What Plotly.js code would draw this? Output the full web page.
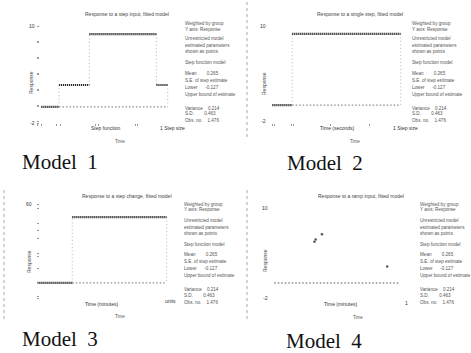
<!DOCTYPE html>
<html><head><meta charset="utf-8">
<script src="https://cdn.plot.ly/plotly-3.0.1.min.js"></script>
<style>html,body{margin:0;padding:0;background:#fff}#chart{width:471px;height:353px}</style>
</head><body><div id="chart"></div>
<script>
// ---- Data ----
// Model 1: breakpoints on the time axis and the level held on each interval
const m1Breaks = [0, 14, 38, 91, 100];
const m1Levels = [0, 2.7, 9, 2.7];
// Model 2
const m2Breaks = [0, 15.5, 100];
const m2Levels = [0, 9];
// Model 3
const m3Breaks = [0, 27, 100];
const m3Levels = [0, 50];
// Model 4: baseline plus a few scattered points
const m4BaseX = [0, 100];
const m4BaseY = [0, 0];
const m4PointX = [32, 33, 38, 90];
const m4PointY = [5.5, 5.8, 6.5, 2.2];

// Tick labels
const yTicks12 = [-2, 10];
const yMinor12 = [0, 2, 4, 6, 8];
const yTicks3 = [60];
const yMinor3 = [-10, 0, 20, 40];

const panelTitles = [
  "Response to a step input, fitted model",
  "Response to a single step, fitted model",
  "Response to a step change, fitted model",
  "Response to a ramp input, fitted model"
];
const statLines = [
  "Weighted by group", "Y axis: Response",
  "Unrestricted model", "estimated parameters", "shown as points",
  "Step function model",
  "Mean        0.265", "S.E. of step estimate", "Lower      -0.127", "Upper bound of estimate",
  "Variance    0.214", "S.D.        0.463", "Obs. no.    1.476"
];
const modelNames = ["Model\u00a0\u00a01", "Model\u00a0\u00a02", "Model\u00a0\u00a03", "Model\u00a0\u00a04"];

// ---- helpers ----
const W = 471, H = 353;
const px = x => x / W, py = y => 1 - y / H;

function stepTraces(breaks, levels, xa, ya) {
  const dx = [], dy = [], vx = [], vy = [];
  for (let i = 0; i < levels.length; i++) {
    dx.push(breaks[i], breaks[i + 1], null);
    dy.push(levels[i], levels[i], null);
    const next = i + 1 < levels.length ? levels[i + 1] : levels[0];
    vx.push(breaks[i + 1], breaks[i + 1], null);
    vy.push(levels[i], next, null);
  }
  return [
    {x: [breaks[1], breaks[breaks.length - 1]], y: [levels[0], levels[0]], xaxis: xa, yaxis: ya,
     mode: 'lines', line: {color: '#8c8c8c', width: 1.3, dash: '1.5px,2px'}, hoverinfo: 'skip'},
    {x: vx, y: vy, xaxis: xa, yaxis: ya, mode: 'lines',
     line: {color: '#b4b4b4', width: 1, dash: '1px,2.5px'}, hoverinfo: 'skip'},
    {x: dx, y: dy, xaxis: xa, yaxis: ya, mode: 'lines',
     line: {color: '#2a2a2a', width: 2.2, dash: '1.2px,0.8px'}, hoverinfo: 'skip'}
  ];
}

const data = [
  ...stepTraces(m1Breaks, m1Levels, 'x', 'y'),
  ...stepTraces(m2Breaks, m2Levels, 'x2', 'y2'),
  ...stepTraces(m3Breaks, m3Levels, 'x3', 'y3'),
  {x: m4BaseX, y: m4BaseY, xaxis: 'x4', yaxis: 'y4', mode: 'lines',
   line: {color: '#8c8c8c', width: 1.3, dash: '1.5px,2px'}, hoverinfo: 'skip'},
  {x: m4PointX, y: m4PointY, xaxis: 'x4', yaxis: 'y4', mode: 'markers',
   marker: {color: '#555', size: 2.5}, hoverinfo: 'skip'}
];

function xAx(d0, d1) {
  return {domain: [px(d0), px(d1)], range: [-1, 101], showgrid: false, zeroline: false, showline: false,
    ticks: 'outside', ticklen: 2, tickcolor: '#999', tickvals: [0, 15, 45, 76], showticklabels: false,
    fixedrange: true};
}
function yAx(y0, y1, r, tv, mv) {
  return {domain: [py(y0), py(y1)], range: r, showgrid: false, zeroline: false, showline: false,
    ticks: 'outside', ticklen: 2, tickcolor: '#999', tickmode: 'array', tickvals: tv.concat(mv),
    showticklabels: false, fixedrange: true};
}

const ann = [];
function note(x, y, text, size, opts = {}) {
  ann.push(Object.assign({xref: 'paper', yref: 'paper', x: px(x), y: py(y), text: text, showarrow: false,
    xanchor: 'left', yanchor: 'middle', font: {family: 'Liberation Sans', size: size, color: '#555'}}, opts));
}
// y tick labels placed at the data value on each y axis
function yLabels(ticks, xPix, yref) {
  ticks.forEach(v => ann.push({xref: 'paper', yref: yref, x: px(xPix), y: v, text: String(v), showarrow: false,
    xanchor: 'right', yanchor: 'middle', font: {family: 'Liberation Sans', size: 5, color: '#333'}}));
}
yLabels(yTicks12, 37, 'y');
yLabels(yTicks12, 268, 'y2');
yLabels(yTicks3, 34, 'y3');
yLabels(yTicks12, 270, 'y4');

const offs = [0, 6, 16, 23, 29, 40, 50, 57, 64, 71, 85, 91, 98];
const panels = [
  {tx: 127, ty: 14, sx: 183, sy: 23, xt: [105, 128], st: [158, 128], tm: [120, 141], yt: [31, 83], m: [20, 162]},
  {tx: 360, ty: 14, sx: 410, sy: 23, xt: [337, 128], st: [391, 128], tm: [355, 141], yt: [264, 84], m: [285, 163]},
  {tx: 127, ty: 196, sx: 182, sy: 204, xt: [101, 304], st: [163, 301], tm: [120, 316], yt: [29, 262], m: [20, 339]},
  {tx: 361, ty: 196, sx: 418, sy: 204, xt: [340, 304], st: [403, 303], tm: [358, 317], yt: [265, 261], m: [284, 341]}
];
const xTitles = ["Step function", "Time (seconds)", "Time (minutes)", "Time (minutes)"];
const stepLbl = ["1 Step size", "1 Step size", "units", "1"];
panels.forEach((p, i) => {
  note(p.tx, p.ty, panelTitles[i], 5, {xanchor: 'center', font: {family: 'Liberation Sans', size: 5, color: '#444'}});
  statLines.forEach((s, k) => note(p.sx, p.sy + offs[k], s, 4.6));
  note(p.xt[0], p.xt[1], xTitles[i], 5, {xanchor: 'center', font: {family: 'Liberation Sans', size: 5, color: '#333'}});
  note(p.st[0], p.st[1], stepLbl[i], 5, {font: {family: 'Liberation Sans', size: 5, color: '#333'}});
  note(p.tm[0], p.tm[1], 'Time', 4.5, {xanchor: 'center'});
  note(p.yt[0], p.yt[1], 'Response', 5, {xanchor: 'center', textangle: -90, font: {family: 'Liberation Sans', size: 5, color: '#444'}});
  note(p.m[0], p.m[1], modelNames[i], 21, {font: {family: 'Liberation Serif', size: 21, color: '#111'}});
});

const dotLine = (x, y0, y1) => ({type: 'line', xref: 'paper', yref: 'paper', x0: px(x), x1: px(x), y0: py(y0), y1: py(y1),
  line: {color: '#aaa', width: 1, dash: 'dot'}});

const layout = {
  width: W, height: H, margin: {l: 0, r: 0, t: 0, b: 0}, showlegend: false,
  paper_bgcolor: '#fff', plot_bgcolor: 'rgba(0,0,0,0)',
  xaxis: xAx(40, 169), yaxis: yAx(123, 26, [-2, 10], yTicks12, yMinor12),
  xaxis2: xAx(271, 402), yaxis2: yAx(121, 26, [-2, 10], yTicks12, yMinor12),
  xaxis3: xAx(36, 168), yaxis3: yAx(296, 204, [-10, 60], yTicks3, yMinor3),
  xaxis4: xAx(273, 401), yaxis4: yAx(298, 208, [-2, 10], yTicks12, yMinor12),
  annotations: ann,
  shapes: [dotLine(247, 2, 140), dotLine(4, 190, 322), dotLine(247, 190, 322)]
};
Plotly.newPlot('chart', data, layout, {displayModeBar: false, staticPlot: true});
</script></body></html>
